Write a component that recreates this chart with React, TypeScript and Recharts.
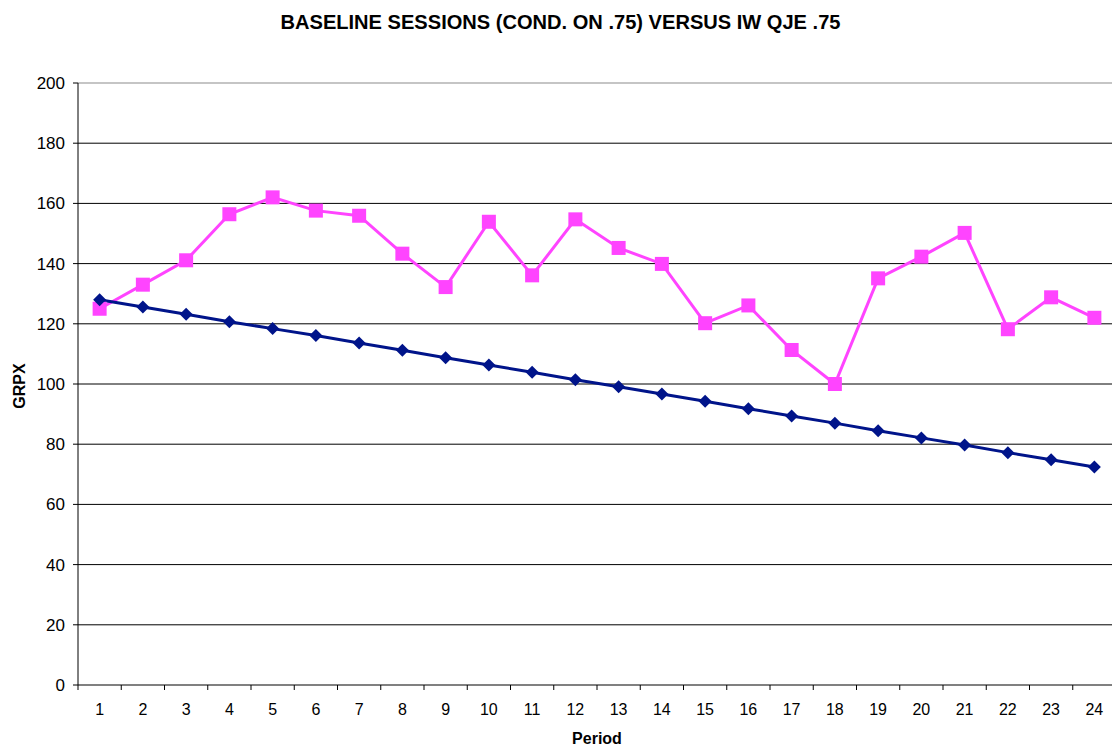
import React from "react";
import { LineChart, Line, XAxis, YAxis, CartesianGrid, ReferenceLine } from "recharts";

const periods = ["1","2","3","4","5","6","7","8","9","10","11","12","13","14","15","16","17","18","19","20","21","22","23","24"];
const iwQje = [128, 125.6, 123.2, 120.7, 118.4, 116.1, 113.6, 111.2, 108.7, 106.3, 103.9, 101.4, 99.1, 96.7, 94.3, 91.8, 89.4, 87.0, 84.5, 82.1, 79.7, 77.2, 74.8, 72.4];
const baseline = [125, 133, 141.1, 156.4, 162, 157.6, 155.9, 143.3, 132.2, 153.9, 136.1, 154.7, 145.2, 139.9, 120.2, 126.1, 111.3, 100, 135.1, 142.3, 150.2, 118.2, 128.8, 122];
const yTicks = [0, 20, 40, 60, 80, 100, 120, 140, 160, 180, 200];

const data = periods.map((p, i) => ({ period: p, iw: iwQje[i], base: baseline[i] }));

const FONT = "'Liberation Sans', Arial, sans-serif";
const CHART_W = 1120;
const CHART_H = 747;
const M = { top: 83, right: 4, left: 0, bottom: 0 };
const Y_W = 78;
const X_H = 62;
const BAND = (CHART_W - M.left - M.right - Y_W) / periods.length;

const PINK = "#FF44FF";
const NAVY = "#00148A";

const SquareDot = (props: any) => {
  const { cx, cy } = props;
  if (cx == null || cy == null) return null;
  return <rect x={cx - 7} y={cy - 7} width={14} height={14} fill={PINK} stroke="none" />;
};

const DiamondDot = (props: any) => {
  const { cx, cy } = props;
  if (cx == null || cy == null) return null;
  const r = 6.5;
  return (
    <polygon
      points={`${cx},${cy - r} ${cx + r},${cy} ${cx},${cy + r} ${cx - r},${cy}`}
      fill={NAVY}
      stroke="none"
    />
  );
};

const XTick = (props: any) => {
  const { x, y, payload, index } = props;
  const left = x - BAND / 2;
  const right = x + BAND / 2;
  return (
    <g>
      <line x1={left} x2={left} y1={y} y2={y + 5} stroke="#000" strokeWidth={1} />
      {index === periods.length - 1 && (
        <line x1={right} x2={right} y1={y} y2={y + 5} stroke="#000" strokeWidth={1} />
      )}
      <text x={x} y={y + 30} textAnchor="middle" fontSize={16} fontFamily={FONT} fill="#000">
        {payload.value}
      </text>
    </g>
  );
};

export default function App() {
  return (
    <div style={{ position: "fixed", left: 0, top: 0, width: 1112, height: 747, overflow: "hidden", background: "#fff" }}>
      <div style={{ position: "absolute", left: 0, top: 0 }}>
        <LineChart width={CHART_W} height={CHART_H} data={data} margin={M}>
          <CartesianGrid horizontal vertical={false} stroke="#000" strokeWidth={1} />
          <ReferenceLine y={200} stroke="#dddddd" strokeWidth={1.5} />
          <XAxis
            dataKey="period"
            scale="band"
            height={X_H}
            interval={0}
            tickLine={false}
            tickSize={0}
            tickMargin={0}
            axisLine={{ stroke: "#808080", strokeWidth: 2 }}
            tick={<XTick />}
          />
          <YAxis
            width={Y_W}
            domain={[0, 200]}
            ticks={yTicks}
            interval={0}
            tickSize={5}
            tickMargin={8}
            axisLine={{ stroke: "#000", strokeWidth: 1 }}
            tickLine={{ stroke: "#000" }}
            tick={{ fontSize: 17, fontFamily: FONT, fill: "#000" }}
          />
          <Line
            dataKey="base"
            stroke={PINK}
            strokeWidth={3}
            dot={<SquareDot />}
            activeDot={false}
            isAnimationActive={false}
          />
          <Line
            dataKey="iw"
            stroke={NAVY}
            strokeWidth={3}
            dot={<DiamondDot />}
            activeDot={false}
            isAnimationActive={false}
          />
        </LineChart>
      </div>
      <svg width={1112} height={747} style={{ position: "absolute", left: 0, top: 0, pointerEvents: "none" }}>
        <text
          x={560.5}
          y={29}
          textAnchor="middle"
          fontFamily={FONT}
          fontWeight="bold"
          fontSize={19.5}
          fill="#000"
          textLength={560}
          lengthAdjust="spacingAndGlyphs"
        >
          BASELINE SESSIONS (COND. ON .75) VERSUS IW QJE .75
        </text>
        <text
          x={0}
          y={0}
          transform="translate(25, 386) rotate(-90)"
          textAnchor="middle"
          fontFamily={FONT}
          fontWeight="bold"
          fontSize={16}
          fill="#000"
        >
          GRPX
        </text>
        <text
          x={597}
          y={744}
          textAnchor="middle"
          fontFamily={FONT}
          fontWeight="bold"
          fontSize={16}
          fill="#000"
        >
          Period
        </text>
      </svg>
    </div>
  );
}
